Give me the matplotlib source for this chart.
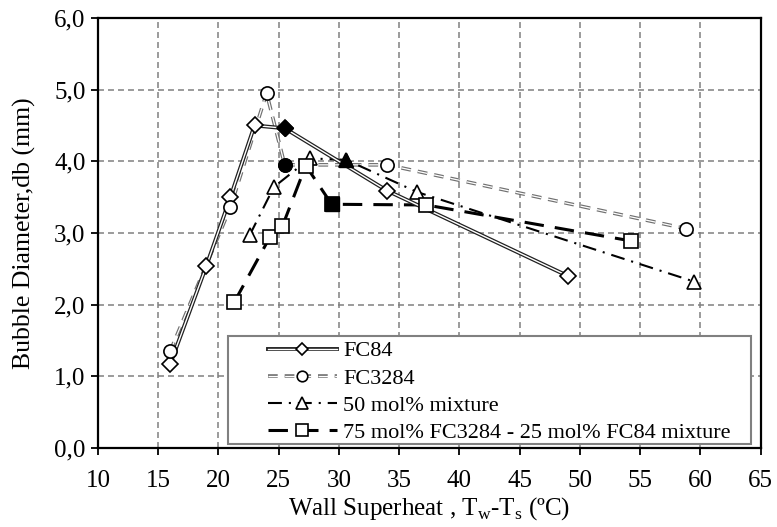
import numpy as np
import matplotlib
matplotlib.use('Agg')
import matplotlib.pyplot as plt
import matplotlib.patheffects as pe
from matplotlib.patches import Rectangle
from matplotlib.legend_handler import HandlerTuple

plt.rcParams['font.family'] = 'Liberation Serif'
plt.rcParams['mathtext.fontset'] = 'custom'
plt.rcParams['mathtext.rm'] = 'Liberation Serif'
plt.rcParams['lines.scale_dashes'] = False

# dati (punto pieno = indice *_full)
fc84_x = [16.0, 19.0, 21.0, 23.0, 25.5, 34.0, 49.0]
fc84_y = [1.17, 2.54, 3.50, 4.50, 4.46, 3.59, 2.40]
fc84_full = 4

fc3284_x = [16.0, 21.0, 24.0, 25.5, 34.0, 58.8]
fc3284_y = [1.35, 3.36, 4.95, 3.95, 3.95, 3.06]
fc3284_full = 3

mix50_x = [22.6, 24.6, 27.6, 30.6, 36.5, 59.5]
mix50_y = [2.97, 3.64, 4.04, 4.02, 3.57, 2.32]
mix50_full = 3

mix75_x = [21.3, 24.3, 25.3, 27.25, 29.4, 37.25, 54.2]
mix75_y = [2.03, 2.95, 3.09, 3.94, 3.40, 3.39, 2.89]
mix75_full = 4

xticks = [10, 15, 20, 25, 30, 35, 40, 45, 50, 55, 60, 65]
yticks = [0, 1, 2, 3, 4, 5, 6]
ytick_labels = ['0,0', '1,0', '2,0', '3,0', '4,0', '5,0', '6,0']
labels = ['FC84', 'FC3284', '50 mol% mixture', '75 mol% FC3284 - 25 mol% FC84 mixture']

fig = plt.figure(figsize=(7.77, 5.27), dpi=100)
ax = fig.add_axes([0.126, 0.150, 0.853, 0.816])

# FC84: linea doppia
l1 = ax.plot(fc84_x, fc84_y, color='white', lw=1.0, zorder=4,
             path_effects=[pe.Stroke(linewidth=2.8, foreground='#202020'), pe.Normal()])[0]
m1 = ax.plot(fc84_x, fc84_y, ls='none', marker='D', ms=8, mfc='white', mec='black', mew=1.2, zorder=5)[0]
ax.plot(fc84_x[fc84_full], fc84_y[fc84_full], ls='none', marker='D', ms=8, mfc='black', mec='black', zorder=6)

# FC3284: tratteggio grigio vuoto
l2 = ax.plot(fc3284_x, fc3284_y, color='white', lw=0.9, dashes=(7, 5), zorder=3,
             path_effects=[pe.Stroke(linewidth=2.6, foreground='#707070'), pe.Normal()])[0]
m2 = ax.plot(fc3284_x, fc3284_y, ls='none', marker='o', ms=9.5, mfc='white', mec='black', mew=1.2, zorder=5)[0]
ax.plot(fc3284_x[fc3284_full], fc3284_y[fc3284_full], ls='none', marker='o', ms=9.5, mfc='black', mec='black', zorder=6)

# 50 mol%: tratto-punto
l3 = ax.plot(mix50_x, mix50_y, color='black', lw=1.5, dashes=(10, 5, 1.5, 5), zorder=3)[0]
m3 = ax.plot(mix50_x, mix50_y, ls='none', marker='^', ms=10, mfc='white', mec='black', mew=1.2, zorder=5)[0]
ax.plot(mix50_x[mix50_full], mix50_y[mix50_full], ls='none', marker='^', ms=10, mfc='black', mec='black', zorder=6)

# 75 mol%: tratto lungo spesso
l4 = ax.plot(mix75_x, mix75_y, color='black', lw=2.2, dashes=(14, 8), zorder=3)[0]
m4 = ax.plot(mix75_x, mix75_y, ls='none', marker='s', ms=10, mfc='white', mec='black', mew=1.2, zorder=5)[0]
ax.plot(mix75_x[mix75_full], mix75_y[mix75_full], ls='none', marker='s', ms=10, mfc='black', mec='black', zorder=6)

ax.set_xlim(10, 65)
ax.set_ylim(0, 6)
ax.set_xticks(xticks)
ax.set_yticks(yticks)
ax.set_yticklabels(ytick_labels)
ax.tick_params(direction='out', length=5, width=1.3, labelsize=18, pad=4, top=False, right=False)
ax.tick_params(axis='x', pad=11)
ax.grid(True, color='#808080', lw=1.1, dashes=(4.3, 2.9))
ax.set_axisbelow(True)
for s in ax.spines.values():
    s.set_linewidth(1.6)

ax.set_xlabel(r'Wall Superheat , T$_\mathrm{w}$-T$_\mathrm{s}$ (ºC)', fontsize=18, labelpad=2)
ax.set_ylabel('Bubble Diameter,db (mm)', fontsize=18.5, labelpad=13)

# riquadro della legenda
ax.add_patch(Rectangle((0.196, 0.0093), 0.790, 0.251, transform=ax.transAxes,
                       facecolor='white', edgecolor='#808080', lw=1.5, zorder=2))

leg = ax.legend([(l1, m1), (l2, m2), (l3, m3), (l4, m4)], labels,
                handler_map={tuple: HandlerTuple(ndivide=1)},
                loc='upper left', bbox_to_anchor=(0.2564, 0.249),
                numpoints=1, markerscale=0.8, fontsize=16, handlelength=3.1, handletextpad=0.3,
                labelspacing=0.3, borderpad=0, borderaxespad=0, frameon=False)

fig.savefig('out.png', dpi=100)
